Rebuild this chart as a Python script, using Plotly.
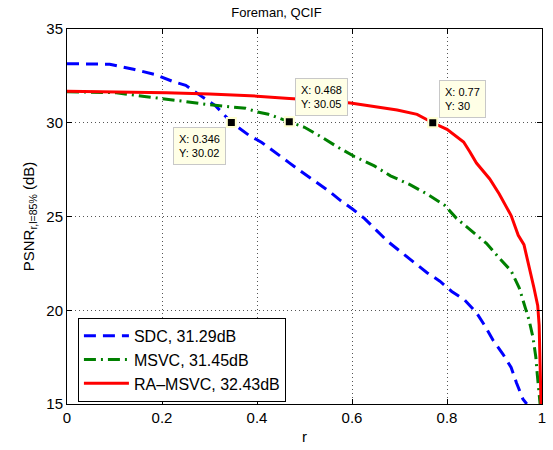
import plotly.graph_objects as go

# r values and PSNR (dB) for each scheme
sdc_r = [0, 0.05, 0.09, 0.14, 0.186, 0.223, 0.25, 0.278, 0.313, 0.346, 0.382, 0.41,
         0.438, 0.466, 0.493, 0.52, 0.549, 0.576, 0.601, 0.626, 0.653, 0.674, 0.701,
         0.73, 0.758, 0.785, 0.81, 0.837, 0.862, 0.879, 0.897, 0.918, 0.935, 0.946,
         0.96, 0.968]
sdc_psnr = [33.15, 33.15, 33.12, 32.85, 32.57, 32.2, 32.0, 31.5, 30.9, 30.02, 29.35,
            28.95, 28.4, 27.9, 27.4, 26.9, 26.4, 25.85, 25.4, 24.9, 24.2, 23.7, 23.15,
            22.55, 22.0, 21.55, 21.0, 20.55, 19.87, 19.2, 18.4, 17.65, 16.95, 16.15,
            15.25, 15.0]

msvc_r = [0, 0.104, 0.163, 0.2, 0.244, 0.292, 0.334, 0.376, 0.4, 0.424, 0.468, 0.5,
          0.535, 0.57, 0.605, 0.647, 0.681, 0.722, 0.758, 0.795, 0.82, 0.852, 0.883,
          0.91, 0.935, 0.952, 0.962, 0.973, 0.981, 0.987, 0.99, 0.994, 0.996]
msvc_psnr = [31.66, 31.6, 31.4, 31.3, 31.15, 30.98, 30.87, 30.77, 30.58, 30.45, 30.05,
             29.76, 29.25, 28.7, 28.2, 27.7, 27.17, 26.7, 26.2, 25.6, 24.9, 24.2, 23.57,
             22.78, 22.1, 21.2, 20.3, 19.45, 18.55, 17.5, 16.6, 15.4, 15.0]

ra_r = [0, 0.1, 0.209, 0.3, 0.4, 0.468, 0.53, 0.597, 0.66, 0.695, 0.737, 0.77, 0.8,
        0.835, 0.848, 0.862, 0.89, 0.91, 0.935, 0.95, 0.962, 0.973, 0.983, 0.991,
        0.994, 0.996, 0.998]
ra_psnr = [31.68, 31.66, 31.6, 31.53, 31.42, 31.3, 31.2, 31.05, 30.8, 30.68, 30.45,
           30.0, 29.65, 28.97, 28.45, 27.85, 27.0, 26.2, 25.05, 24.0, 23.5, 22.35, 21.2,
           20.24, 19.2, 17.1, 15.0]

series_names = ["SDC, 31.29dB", "MSVC, 31.45dB", "RA\u2013MSVC, 32.43dB"]

# data-cursor points
tip_r = [0.346, 0.468, 0.77]
tip_psnr = [30.02, 30.05, 30]

x_ticks = [0, 0.2, 0.4, 0.6, 0.8, 1]
y_ticks = [15, 20, 25, 30, 35]

fig = go.Figure()
fig.add_trace(go.Scatter(x=sdc_r, y=sdc_psnr, mode="lines", name=series_names[0],
                         line=dict(color="#0000ff", width=3, dash="12px,7px")))
fig.add_trace(go.Scatter(x=msvc_r, y=msvc_psnr, mode="lines", name=series_names[1],
                         line=dict(color="#008000", width=3, dash="12px,5px,2px,5px")))
fig.add_trace(go.Scatter(x=ra_r, y=ra_psnr, mode="lines", name=series_names[2],
                         line=dict(color="#ff0000", width=3)))
fig.add_trace(go.Scatter(x=tip_r, y=tip_psnr, mode="markers", showlegend=False,
                         marker=dict(symbol="square", size=9, color="black",
                                     line=dict(color="#ffffd0", width=2))))

# data-cursor boxes: (xanchor, yanchor, xshift, yshift)
tip_place = [("right", "top", -5, -5), ("left", "bottom", 6, 6), ("left", "bottom", 6, 5)]
for xv, yv, (xa, ya, xs, ys) in zip(tip_r, tip_psnr, tip_place):
    fig.add_annotation(x=xv, y=yv, xref="x", yref="y", showarrow=False,
                       text=f"X: {xv:g}<br>Y: {yv:g}", align="left",
                       xanchor=xa, yanchor=ya, xshift=xs, yshift=ys,
                       font=dict(family="Liberation Sans, Arial", size=11, color="black"),
                       bgcolor="#ffffe6", bordercolor="#c8c8c8", borderwidth=1, borderpad=5)

axis_common = dict(showline=True, linecolor="black", linewidth=1, mirror="ticks",
                   ticks="inside", ticklen=5, tickcolor="black",
                   showgrid=True, gridcolor="#555555", griddash="1px,3px", gridwidth=1,
                   zeroline=False, tickfont=dict(size=15, color="black"))

fig.update_layout(
    width=553, height=450,
    margin=dict(l=67, r=7, t=29, b=43),
    paper_bgcolor="white", plot_bgcolor="white",
    font=dict(family="Liberation Sans, Arial", color="black"),
    title=dict(text="Foreman, QCIF", x=0.5, xanchor="center", y=0.973, yanchor="middle",
               font=dict(size=13)),
    xaxis=dict(range=[0, 1], tickvals=x_ticks, ticktext=[f"{v:g}" for v in x_ticks],
               title=dict(text="r", font=dict(size=15), standoff=6), **axis_common),
    yaxis=dict(range=[15, 35], tickvals=y_ticks,
               title=dict(text="PSNR<sub>r,l=85%</sub> (dB)", font=dict(size=15), standoff=8),
               **axis_common),
    legend=dict(x=0.023, y=0.23, xanchor="left", yanchor="top",
                bgcolor="white", bordercolor="black", borderwidth=1,
                font=dict(size=16), itemwidth=45, tracegroupgap=0),
    showlegend=True,
)

fig.write_html("out.html")
